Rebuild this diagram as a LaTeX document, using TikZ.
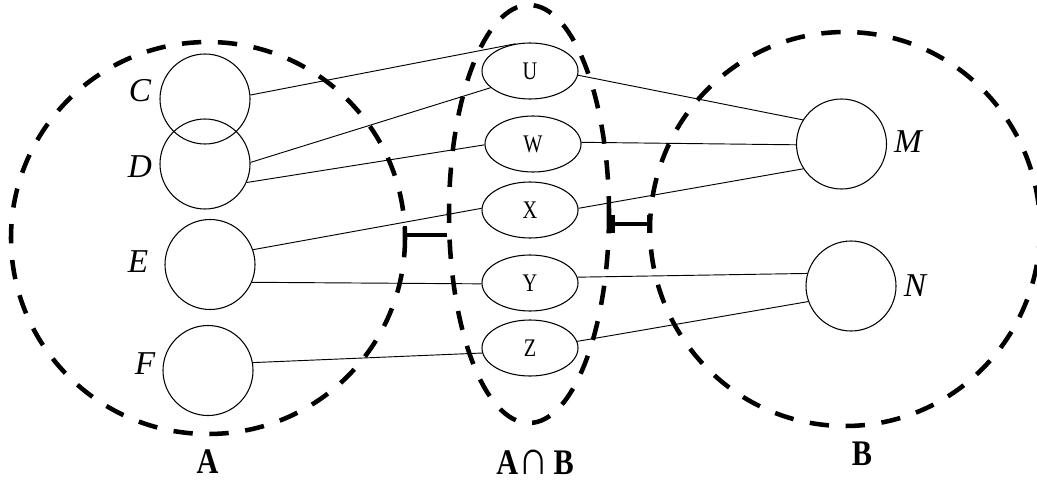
\documentclass[tikz,border=0pt]{standalone}
\usepackage{fontspec}
\setmainfont{Liberation Serif}
\usetikzlibrary{shapes.geometric,arrows.meta}

\begin{document}
\begin{tikzpicture}[x=0.75pt,y=-0.75pt,
  setline/.style={line width=3.4pt, dash pattern=on 14.5pt off 12.5pt},
  elem/.style={draw, line width=0.8pt, circle, minimum size=67.5pt, inner sep=0pt},
  pair/.style={draw, line width=0.8pt, ellipse, minimum width=72pt, minimum height=42pt,
    inner sep=0pt, font=\fontsize{19}{19}\selectfont},
  link/.style={line width=0.7pt},
  elabel/.style={inner sep=0pt, font=\fontsize{25}{25}\selectfont\itshape},
  setname/.style={inner sep=0pt, font=\fontsize{27}{27}\selectfont\bfseries},
  gapbar/.style={line width=3pt}
]
\useasboundingbox (0,0) rectangle (1037,481);

% the three sets
\draw[setline] (208,238) ellipse [x radius=197, y radius=196];
\draw[setline] (529,214) ellipse [x radius=80, y radius=209];
\draw[setline] (845,229) ellipse [x radius=195, y radius=197];

% elements of A
\node[elem] (C) at (205,99) {};
\node[elem] (D) at (205,164) {};
\node[elem] (E) at (210,264.5) {};
\node[elem] (F) at (208,370.5) {};
\node[elabel] (Cl) at (140,91) {C};
\node[elabel] (Dl) at (140,167) {D};
\node[elabel] (El) at (138,262) {E};
\node[elabel] (Fl) at (145,364) {F};

% elements of B
\node[elem] (M) at (841.5,144) {};
\node[elem] (N) at (851,286) {};
\node[elabel] (Ml) at (908,142) {M};
\node[elabel] (Nl) at (915,286) {N};

% elements of the intersection
\node[pair] (U) at (530,71) {\scalebox{0.8}[1]{U}};
\node[pair] (W) at (533,144) {\scalebox{0.8}[1]{W}};
\node[pair] (X) at (530,210) {\scalebox{0.8}[1]{X}};
\node[pair] (Y) at (530,283) {\scalebox{0.8}[1]{Y}};
\node[pair] (Z) at (530,348) {\scalebox{0.8}[1]{Z}};

% links from A
\draw[link] (C.5) -- (U.118);
\draw[link] (D.2) -- (U.203);
\draw[link] (D.-24) -- (W.181);
\draw[link] (E.19) -- (X.178);
\draw[link] (E.-23) -- (Y.181);
\draw[link] (F.10) -- (Z.186);

% links to B
\draw[link] (U.-5) -- (M.148);
\draw[link] (W.2) -- (M.181);
\draw[link] (X.2) -- (M.213);
\draw[link] (Y.7) -- (N.164);
\draw[link] (Z.8) -- (N.200);

% gap markers
\coordinate (gl1) at (403,235);
\coordinate (gl2) at (447,235);
\coordinate (gr1) at (611,224);
\coordinate (gr2) at (651,224);
\draw[gapbar, {Bar[width=14pt]}-] (gl1) -- (gl2);
\draw[gapbar, {Bar[width=14pt]}-{Bar[width=14pt]}] (gr1) -- (gr2);

% set names
\node[setname] (An) at (207.5,462) {\scalebox{0.84}[1]{A}};
\node[setname] (ABn) at (535,462) {\scalebox{0.84}[1]{A\kern0.5pt\scalebox{1.4}[1.35]{∩}\kern4pt B}};
\node[setname] (Bn) at (862,454) {\scalebox{0.84}[1]{B}};
\end{tikzpicture}
\end{document}
